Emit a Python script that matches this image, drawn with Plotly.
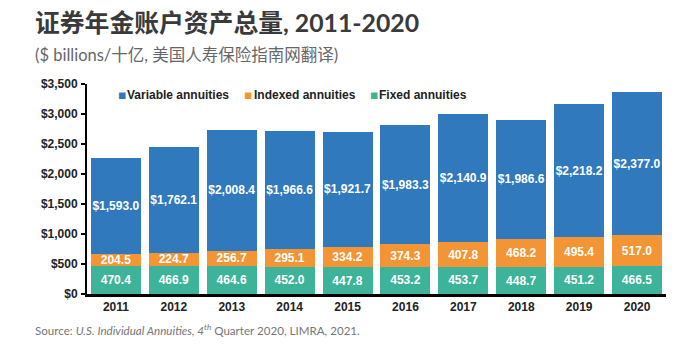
import plotly.graph_objects as go

years = ["2011", "2012", "2013", "2014", "2015", "2016", "2017", "2018", "2019", "2020"]
variable = [1593.0, 1762.1, 2008.4, 1966.6, 1921.7, 1983.3, 2140.9, 1986.6, 2218.2, 2377.0]
indexed = [204.5, 224.7, 256.7, 295.1, 334.2, 374.3, 407.8, 468.2, 495.4, 517.0]
fixed = [470.4, 466.9, 464.6, 452.0, 447.8, 453.2, 453.7, 448.7, 451.2, 466.5]
y_ticks = [0, 500, 1000, 1500, 2000, 2500, 3000, 3500]
series_names = ["Variable annuities", "Indexed annuities", "Fixed annuities"]

BLUE = "#3179bd"
ORANGE = "#f39535"
GREEN = "#3db39a"
LAB_FONT = dict(family="Liberation Sans, Arial", size=12, color="white")

fig = go.Figure()
fig.add_bar(x=years, y=fixed, name=series_names[2], marker_color=GREEN,
            texttemplate="<b>%{y:.1f}</b>", textposition="inside",
            insidetextanchor="middle", textfont=LAB_FONT, textangle=0,
            constraintext="none")
fig.add_bar(x=years, y=indexed, name=series_names[1], marker_color=ORANGE,
            texttemplate="<b>%{y:.1f}</b>", textposition="inside",
            insidetextanchor="middle", textfont=LAB_FONT, textangle=0,
            constraintext="none")
fig.add_bar(x=years, y=variable, name=series_names[0], marker_color=BLUE,
            texttemplate="<b>$%{y:,.1f}</b>", textposition="inside",
            insidetextanchor="middle", textfont=LAB_FONT, textangle=0,
            constraintext="none")

fig.update_traces(marker_line_width=0, hoverinfo="skip")

TITLE_FONT = "Lato, 'Noto Sans CJK SC', sans-serif"
AX_FONT = dict(family="Liberation Sans, Arial", size=12, color="#222")

# legend drawn as annotations (compact swatch next to text, like the reference)
legend_colors = [BLUE, ORANGE, GREEN]
legend_sq_x = [0.0524, 0.270, 0.4876]
legend_tx_x = [0.0674, 0.2862, 0.5026]
LEG_Y = 0.9476
legend_ann = []
for name, col, sx, tx in zip(series_names, legend_colors, legend_sq_x, legend_tx_x):
    legend_ann.append(dict(text="■", xref="paper", yref="paper", x=sx, y=LEG_Y,
                           xanchor="left", yanchor="middle", showarrow=False, borderpad=0,
                           font=dict(family="DejaVu Sans", size=8.5, color=col)))
    legend_ann.append(dict(text=f"<b>{name}</b>", xref="paper", yref="paper", x=tx, y=LEG_Y,
                           xanchor="left", yanchor="middle", showarrow=False, borderpad=0,
                           font=AX_FONT))

fig.update_layout(
    width=700, height=357,
    barmode="stack", bargap=0.135,
    plot_bgcolor="white", paper_bgcolor="white",
    margin=dict(l=79, r=42, t=76, b=71),
    showlegend=False,
    xaxis=dict(type="category", showline=True, linecolor="black", linewidth=2.5,
               ticks="", showgrid=False, tickfont=AX_FONT,
               range=[-0.5, 9.5],
               tickvals=years, ticktext=[f"<b>{y}</b>" for y in years]),
    yaxis=dict(range=[0, 3500], tickvals=y_ticks,
               ticktext=[f"<b>${v:,}</b>" for v in y_ticks],
               showline=True, linecolor="black", linewidth=2,
               ticks="outside", ticklen=4, tickcolor="black", tickwidth=1.5,
               ticklabelstandoff=1,
               showgrid=False, zeroline=False, tickfont=AX_FONT),
    annotations=[
        dict(text="<b>证券年金账户资产总量, 2011-2020</b>", xref="paper", yref="paper",
             x=-0.0933, y=1.295, xanchor="left", yanchor="middle", showarrow=False,
             font=dict(family=TITLE_FONT, size=24.8, color="#3a3a3a")),
        dict(text="($ billions/十亿, 美国人寿保险指南网翻译)", xref="paper", yref="paper",
             x=-0.0933, y=1.138, xanchor="left", yanchor="middle", showarrow=False,
             font=dict(family=TITLE_FONT, size=16.5, color="#666")),
        dict(text="Source: <i>U.S. Individual Annuities, 4<sup>th</sup></i> Quarter 2020, LIMRA, 2021.",
             xref="paper", yref="paper",
             x=-0.0933, y=-0.167, xanchor="left", yanchor="middle", showarrow=False,
             font=dict(family=TITLE_FONT, size=11.6, color="#777")),
    ] + legend_ann,
)

fig.write_html("out.html")
